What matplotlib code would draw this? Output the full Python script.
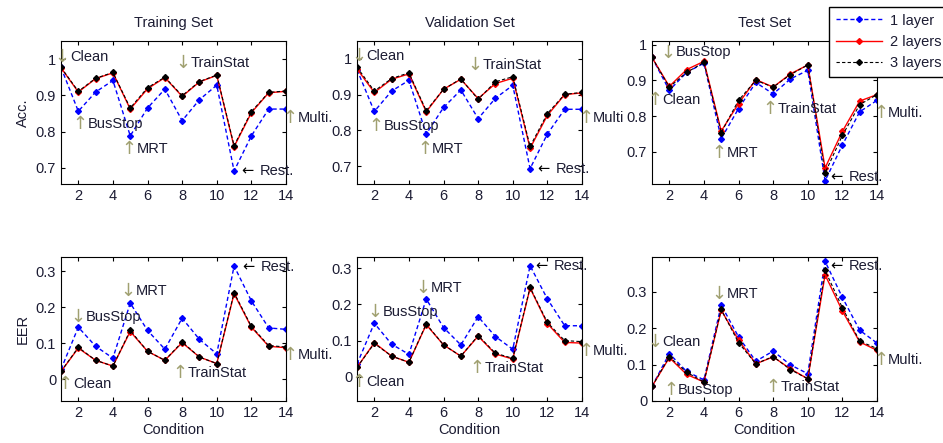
import matplotlib
matplotlib.use("Agg")
import matplotlib.pyplot as plt
import numpy as np

plt.rcParams['font.family'] = ['Liberation Sans', 'DejaVu Sans']
plt.rcParams['font.size'] = 10.5

cond = np.arange(1, 15)

# accuracy
acc_train_1 = [0.977, 0.856, 0.909, 0.941, 0.788, 0.865, 0.917, 0.830, 0.888, 0.928, 0.691, 0.788, 0.862, 0.862]
acc_train_2 = [0.976, 0.909, 0.946, 0.962, 0.862, 0.918, 0.949, 0.897, 0.937, 0.955, 0.758, 0.852, 0.907, 0.911]
acc_train_3 = [0.977, 0.911, 0.947, 0.963, 0.865, 0.921, 0.950, 0.899, 0.938, 0.956, 0.761, 0.855, 0.908, 0.912]
acc_val_1 = [0.970, 0.853, 0.910, 0.940, 0.790, 0.864, 0.913, 0.833, 0.890, 0.926, 0.693, 0.790, 0.859, 0.859]
acc_val_2 = [0.972, 0.906, 0.943, 0.958, 0.852, 0.915, 0.943, 0.889, 0.931, 0.946, 0.750, 0.842, 0.900, 0.905]
acc_val_3 = [0.977, 0.910, 0.945, 0.961, 0.855, 0.915, 0.944, 0.887, 0.936, 0.950, 0.755, 0.847, 0.901, 0.906]
acc_test_1 = [0.964, 0.872, 0.922, 0.948, 0.737, 0.821, 0.894, 0.862, 0.904, 0.928, 0.619, 0.719, 0.812, 0.844]
acc_test_2 = [0.964, 0.883, 0.930, 0.953, 0.758, 0.835, 0.902, 0.881, 0.918, 0.943, 0.655, 0.757, 0.842, 0.860]
acc_test_3 = [0.964, 0.881, 0.922, 0.950, 0.754, 0.844, 0.900, 0.881, 0.916, 0.943, 0.641, 0.746, 0.832, 0.860]

# equal error rate
eer_train_1 = [0.028, 0.145, 0.092, 0.059, 0.212, 0.136, 0.084, 0.170, 0.111, 0.071, 0.315, 0.218, 0.143, 0.139]
eer_train_2 = [0.022, 0.087, 0.053, 0.037, 0.133, 0.078, 0.053, 0.102, 0.062, 0.044, 0.238, 0.145, 0.092, 0.088]
eer_train_3 = [0.022, 0.089, 0.053, 0.037, 0.136, 0.078, 0.053, 0.104, 0.062, 0.044, 0.241, 0.147, 0.094, 0.090]
eer_val_1 = [0.035, 0.148, 0.090, 0.062, 0.215, 0.136, 0.088, 0.166, 0.111, 0.076, 0.307, 0.215, 0.141, 0.141]
eer_val_2 = [0.026, 0.094, 0.057, 0.040, 0.144, 0.088, 0.057, 0.112, 0.063, 0.049, 0.245, 0.147, 0.095, 0.093]
eer_val_3 = [0.026, 0.092, 0.057, 0.040, 0.146, 0.088, 0.057, 0.114, 0.065, 0.051, 0.247, 0.150, 0.100, 0.097]
eer_test_1 = [0.040, 0.130, 0.081, 0.058, 0.263, 0.176, 0.109, 0.137, 0.099, 0.075, 0.383, 0.284, 0.194, 0.159]
eer_test_2 = [0.040, 0.119, 0.073, 0.052, 0.249, 0.167, 0.102, 0.121, 0.088, 0.061, 0.346, 0.247, 0.162, 0.139]
eer_test_3 = [0.040, 0.121, 0.079, 0.052, 0.251, 0.160, 0.102, 0.122, 0.086, 0.061, 0.358, 0.256, 0.164, 0.144]

titles = ["Training Set", "Validation Set", "Test Set"]
labels = ["1 layer", "2 layers", "3 layers"]

# note labels: (arrow, text, x, y)
notes_acc = [
    [("↓", "Clean", 0.88, 1.005), ("↑", "BusStop", 1.9, 0.821), ("↑", "MRT", 4.72, 0.753),
     ("↓", "TrainStat", 7.85, 0.99), ("←", "Rest.", 11.4, 0.69), ("↑", "Multi.", 14.05, 0.837)],
    [("↓", "Clean", 0.9, 1.009), ("↑", "BusStop", 1.9, 0.813), ("↑", "MRT", 4.7, 0.748),
     ("↓", "TrainStat", 7.6, 0.984), ("←", "Rest.", 11.4, 0.691), ("↑", "Multi", 14.0, 0.836)],
    [("↓", "BusStop", 1.71, 0.978), ("↑", "Clean", 0.95, 0.846), ("↑", "MRT", 4.65, 0.698),
     ("↑", "TrainStat", 7.63, 0.820), ("←", "Rest.", 11.3, 0.629), ("↑", "Multi.", 14.0, 0.809)],
]
notes_eer = [
    [("↑", "Clean", 1.05, -0.012), ("↓", "BusStop", 1.8, 0.173), ("↓", "MRT", 4.65, 0.245),
     ("↑", "TrainStat", 7.67, 0.018), ("←", "Rest.", 11.47, 0.312), ("↑", "Multi.", 14.05, 0.067)],
    [("↑", "Clean", 0.9, -0.014), ("↓", "BusStop", 1.83, 0.180), ("↓", "MRT", 4.6, 0.245),
     ("↑", "TrainStat", 7.73, 0.023), ("←", "Rest.", 11.3, 0.305), ("↑", "Multi.", 14.0, 0.072)],
    [("↓", "Clean", 0.95, 0.162), ("↑", "BusStop", 1.87, 0.030), ("↓", "MRT", 4.65, 0.293),
     ("↑", "TrainStat", 7.79, 0.038), ("←", "Rest.", 11.3, 0.371), ("↑", "Multi.", 14.0, 0.113)],
]

acc = [(acc_train_1, acc_train_2, acc_train_3), (acc_val_1, acc_val_2, acc_val_3), (acc_test_1, acc_test_2, acc_test_3)]
eer = [(eer_train_1, eer_train_2, eer_train_3), (eer_val_1, eer_val_2, eer_val_3), (eer_test_1, eer_test_2, eer_test_3)]
ylim_acc = [(0.655, 1.05), (0.65, 1.05), (0.61, 1.01)]
ylim_eer = [(-0.06, 0.34), (-0.067, 0.331), (0.0, 0.395)]

txtcol = '#1c1c33'
arrcol = '#a0a070'

fig = plt.figure(figsize=(9.43, 4.43), dpi=100)
W = 943.0
H = 443.0
lefts = [61, 357, 652]


def draw(ax, series, lim, notes):
    s1, s2, s3 = series
    l1, = ax.plot(cond, s1, color='#0000ff', ls=(0, (3, 2)), lw=1, marker='D', ms=3)
    l2, = ax.plot(cond, s2, color='#ff0000', ls='-', lw=1, marker='D', ms=3)
    l3, = ax.plot(cond, s3, color='black', ls=(0, (3, 2)), lw=0.8, marker='D', ms=3)
    ax.set_xlim(1, 14)
    ax.set_ylim(*lim)
    ax.set_xticks(range(2, 15, 2))
    ax.tick_params(direction='in', top=True, right=True, length=3, labelcolor=txtcol, labelsize=10.5)
    for sp in ax.spines.values():
        sp.set_linewidth(0.8)
    for arrow, name, x, y in notes:
        if arrow == "←":
            ax.text(x, y, arrow, color='black', va='center', ha='left', clip_on=False,
                    fontsize=10.5, family='DejaVu Sans')
            ax.annotate(name, (x, y), xytext=(13.5, 0), textcoords='offset points', va='center',
                        ha='left', color=txtcol, annotation_clip=False, fontsize=10.5)
        else:
            ax.annotate(arrow, (x, y), xytext=(2.5, 0), textcoords='offset points', va='center',
                        ha='center', color=arrcol, annotation_clip=False, fontsize=13,
                        family='DejaVu Sans')
            ax.annotate(name, (x, y), xytext=(8, 0), textcoords='offset points', va='center',
                        ha='left', color=txtcol, annotation_clip=False, fontsize=10.5)
    return l1, l2, l3


handles = None
for i in range(3):
    ax = fig.add_axes([lefts[i] / W, 1 - 184 / H, 225 / W, 143 / H])
    handles = draw(ax, acc[i], ylim_acc[i], notes_acc[i])
    ax.set_yticks([0.7, 0.8, 0.9, 1.0])
    ax.set_yticklabels(["0.7", "0.8", "0.9", "1"])
    ax.set_title(titles[i], fontsize=10.5, color=txtcol, pad=10)
    if i == 0:
        ax.set_ylabel("Acc.", color=txtcol, fontsize=10.5)

for i in range(3):
    ax = fig.add_axes([lefts[i] / W, 1 - 401 / H, 225 / W, 144 / H])
    draw(ax, eer[i], ylim_eer[i], notes_eer[i])
    ax.set_yticks([0, 0.1, 0.2, 0.3])
    ax.set_yticklabels(["0", "0.1", "0.2", "0.3"])
    ax.set_xlabel("Condition", color=txtcol, fontsize=10.5, labelpad=2)
    if i == 0:
        ax.set_ylabel("EER", color=txtcol, fontsize=10.5)

leg = fig.legend(handles, labels, loc='upper left', bbox_to_anchor=(829 / W, 1 - 7 / H),
                 fancybox=False, framealpha=1, edgecolor='black', fontsize=10.5,
                 handlelength=3.2, handletextpad=0.5, borderaxespad=0, borderpad=0.45,
                 labelspacing=0.5)
leg.get_frame().set_linewidth(1)
for t in leg.get_texts():
    t.set_color(txtcol)

fig.savefig("out.png", dpi=100, facecolor='white')
